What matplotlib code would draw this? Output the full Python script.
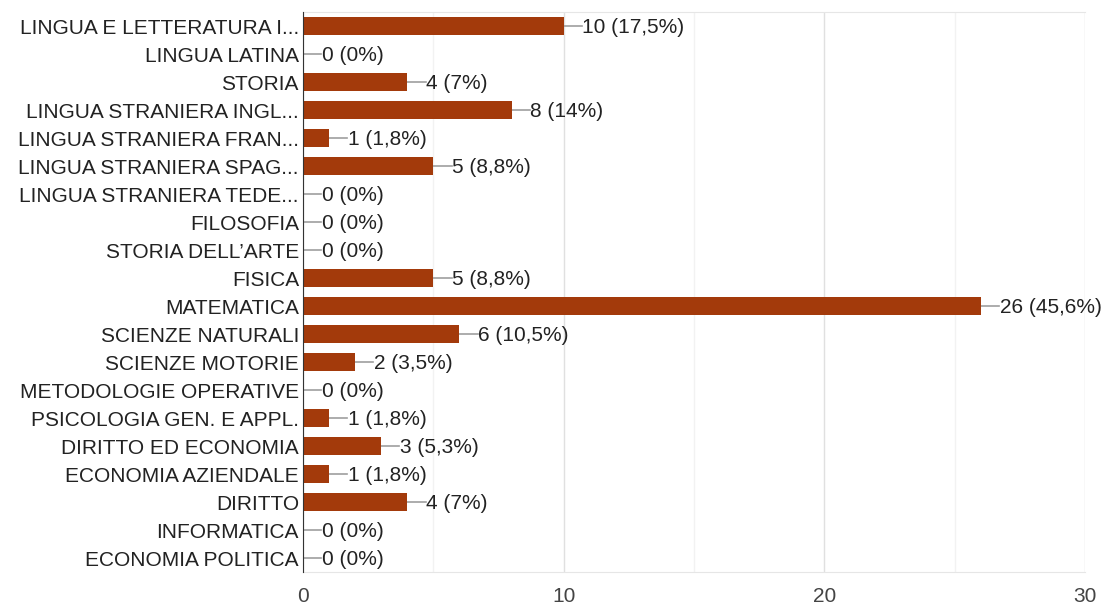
import matplotlib.pyplot as plt
import matplotlib.transforms as mtransforms
import numpy as np

# data
subjects = ["LINGUA E LETTERATURA I...", "LINGUA LATINA", "STORIA",
            "LINGUA STRANIERA INGL...", "LINGUA STRANIERA FRAN...",
            "LINGUA STRANIERA SPAG...", "LINGUA STRANIERA TEDE...",
            "FILOSOFIA", "STORIA DELL\u2019ARTE", "FISICA", "MATEMATICA",
            "SCIENZE NATURALI", "SCIENZE MOTORIE", "METODOLOGIE OPERATIVE",
            "PSICOLOGIA GEN. E APPL.", "DIRITTO ED ECONOMIA",
            "ECONOMIA AZIENDALE", "DIRITTO", "INFORMATICA", "ECONOMIA POLITICA"]
counts = [10, 0, 4, 8, 1, 5, 0, 0, 0, 5, 26, 6, 2, 0, 1, 3, 1, 4, 0, 0]
percents = ["17,5%", "0%", "7%", "14%", "1,8%", "8,8%", "0%", "0%", "0%",
            "8,8%", "45,6%", "10,5%", "3,5%", "0%", "1,8%", "5,3%", "1,8%",
            "7%", "0%", "0%"]

plt.rcParams['font.family'] = ['Liberation Sans', 'DejaVu Sans']

fig = plt.figure(figsize=(11.04, 6.06), dpi=100)
ax = fig.add_axes([0.2745, 0.056, 0.7083, 0.924])

y = np.arange(len(subjects))
ax.barh(y, counts, height=0.65, color='#a33a0b', zorder=3)

for i, (c, p) in enumerate(zip(counts, percents)):
    ax.plot([c, c + 0.7], [i, i], color='#9e9e9e', lw=1.2, zorder=2)
    ax.text(c + 0.72, i + 0.04, "{} ({})".format(c, p), va='center', ha='left',
            fontsize=15, color='#222222')

ax.set_xlim(0, 30)
ax.set_ylim(len(subjects) - 0.5, -0.5)
ax.set_yticks(y)
ax.set_yticklabels(subjects, fontsize=15, color='#222222')
# nudge the category labels down a touch so caps sit on the bar centre
shift = mtransforms.ScaledTranslation(0, -1 / 100, fig.dpi_scale_trans)
for lbl in ax.get_yticklabels():
    lbl.set_transform(lbl.get_transform() + shift)
ax.set_xticks([0, 10, 20, 30])
ax.set_xticks([5, 15, 25], minor=True)
ax.tick_params(axis='x', labelsize=15, colors='#444444', length=0, pad=11)
ax.tick_params(axis='x', which='minor', length=0)
ax.tick_params(axis='y', length=0, pad=3)
ax.grid(axis='x', which='major', color='#e0e0e0', lw=1, zorder=0)
ax.grid(axis='x', which='minor', color='#f2f2f2', lw=1, zorder=0)

for s in ['top', 'bottom']:
    ax.spines[s].set_color('#e6e6e6')
ax.spines['right'].set_visible(False)
ax.spines['left'].set_color('#333333')
ax.spines['left'].set_zorder(4)

plt.savefig('out.png', dpi=100)
